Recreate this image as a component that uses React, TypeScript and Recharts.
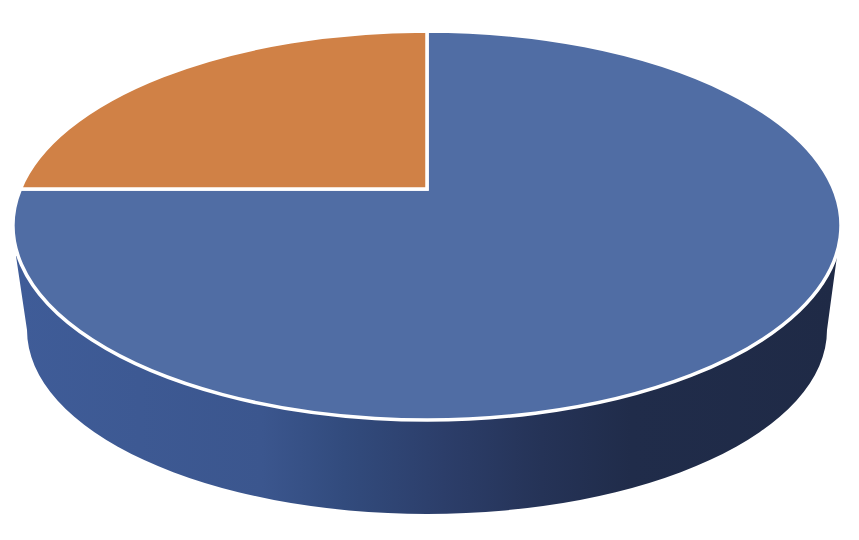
import { PieChart, Pie, Cell } from "recharts";

const sliceNames = ["Blue", "Orange"];
const sliceValues = [75, 25];
const sliceColors = ["#506da4", "#d08146"];
const wallValues = [100];

const data = sliceNames.map((name, i) => ({ name, value: sliceValues[i] }));
const wallData = wallValues.map((value) => ({ name: "wall", value }));

// top face of the tilted pie, the apex sits above the ellipse centre because of perspective
const TOP = { cx: 427, cy: 225.5, rx: 414, ry: 194.5 };
const BOTTOM = { rx: 400, ry: 184, cy: 330, left: 27, right: 827 };
const RAD = Math.PI / 180;

function rimPoint(ax: number, ay: number, angle: number) {
  const dx = Math.cos(angle * RAD) / TOP.rx;
  const dy = -Math.sin(angle * RAD) / TOP.ry;
  const ox = (ax - TOP.cx) / TOP.rx;
  const oy = (ay - TOP.cy) / TOP.ry;
  const a = dx * dx + dy * dy;
  const b = 2 * (ox * dx + oy * dy);
  const c = ox * ox + oy * oy - 1;
  const t = (-b + Math.sqrt(b * b - 4 * a * c)) / (2 * a);
  return { x: ax + t * Math.cos(angle * RAD), y: ay - t * Math.sin(angle * RAD) };
}

function FlatSlice(props: any) {
  const { cx, cy, startAngle, endAngle, fill } = props;
  const p1 = rimPoint(cx, cy, startAngle);
  const p2 = rimPoint(cx, cy, endAngle);
  const large = Math.abs(endAngle - startAngle) > 180 ? 1 : 0;
  const d = `M${cx},${cy} L${p1.x},${p1.y} A${TOP.rx},${TOP.ry} 0 ${large} 1 ${p2.x},${p2.y} Z`;
  return <path d={d} fill={fill} stroke="#ffffff" strokeWidth={3.5} strokeLinejoin="miter" />;
}

function Wall() {
  const d = `M16,256 L${BOTTOM.left},${BOTTOM.cy} A${BOTTOM.rx},${BOTTOM.ry} 0 0 0 ${BOTTOM.right},${BOTTOM.cy} L837,256 Z`;
  return <path d={d} fill="url(#wallShade)" />;
}

export default function App() {
  return (
    <div style={{ position: "absolute", left: 0, top: 0, width: 859, height: 540, background: "#fff" }}>
      <PieChart width={859} height={540} margin={{ top: 0, right: 0, bottom: 0, left: 0 }}>
        <defs>
          <linearGradient id="wallShade" x1="0" y1="0" x2="1" y2="0">
            <stop offset="0%" stopColor="#3f5c98" />
            <stop offset="30%" stopColor="#3b568e" />
            <stop offset="40%" stopColor="#324b7d" />
            <stop offset="52%" stopColor="#2c3e6a" />
            <stop offset="64%" stopColor="#253357" />
            <stop offset="75%" stopColor="#202c4a" />
            <stop offset="100%" stopColor="#1f2a46" />
          </linearGradient>
        </defs>
        <Pie
          data={wallData}
          dataKey="value"
          cx={427}
          cy={188}
          outerRadius={150}
          startAngle={90}
          endAngle={-270}
          stroke="none"
          shape={Wall}
          isAnimationActive={false}
        />
        <Pie
          data={data}
          dataKey="value"
          cx={427}
          cy={189}
          outerRadius={150}
          startAngle={90}
          endAngle={-270}
          shape={FlatSlice}
          isAnimationActive={false}
        >
          {data.map((d, i) => (
            <Cell key={d.name} fill={sliceColors[i]} />
          ))}
        </Pie>
      </PieChart>
    </div>
  );
}
